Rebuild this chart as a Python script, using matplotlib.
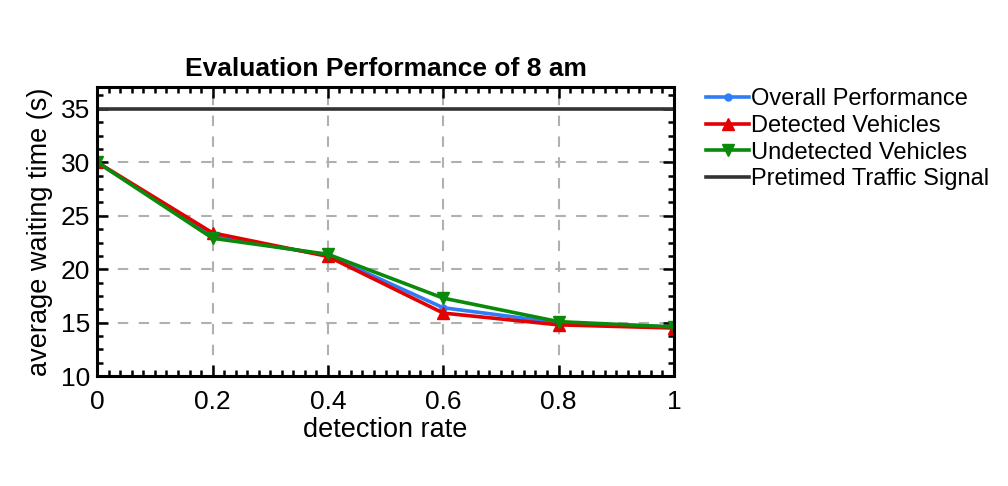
import numpy as np
import matplotlib.pyplot as plt
from matplotlib.ticker import MultipleLocator

plt.rcParams['font.family'] = ['Liberation Sans', 'DejaVu Sans']

# data
rate = [0, 0.2, 0.4, 0.6, 0.8, 1.0]
overall = [30.0, 23.1, 21.3, 16.4, 15.0, 14.6]
detected = [30.0, 23.4, 21.2, 15.9, 14.8, 14.5]
undetected = [30.0, 22.9, 21.4, 17.3, 15.1, 14.6]
pretimed = 35.0

fig = plt.figure(figsize=(10.08, 4.86), dpi=100)
ax = fig.add_axes([0.0965, 0.226, 0.572, 0.594])

ax.plot(rate, overall, color='#2f7cf6', lw=2.6, marker='o', ms=5, label='Overall Performance')
ax.plot(rate, detected, color='#e30000', lw=2.6, marker='^', ms=8, label='Detected Vehicles')
ax.plot(rate, undetected, color='#0a8a0a', lw=2.6, marker='v', ms=8, label='Undetected Vehicles')
ax.axhline(pretimed, color='#333333', lw=2.6, label='Pretimed Traffic Signal')

ax.set_xlim(0, 1)
ax.set_ylim(10, 37)
ax.set_xticks([0, 0.2, 0.4, 0.6, 0.8, 1])
ax.set_xticklabels(['0', '0.2', '0.4', '0.6', '0.8', '1'])
ax.set_yticks([10, 15, 20, 25, 30, 35])
ax.xaxis.set_minor_locator(MultipleLocator(0.02))
ax.yaxis.set_minor_locator(MultipleLocator(1.25))
ax.tick_params(which='both', direction='in', top=True, right=True, width=1.8, labelsize=19)
ax.tick_params(which='major', length=8)
ax.tick_params(axis='x', which='major', pad=10)
ax.tick_params(axis='y', which='major', pad=5)
ax.tick_params(which='minor', length=4.5)
for s in ax.spines.values():
    s.set_linewidth(2.2)
ax.grid(True, which='major', ls=(0, (5, 5)), color='#b0b0b0', lw=1.5)

ax.set_xlabel('detection rate', fontsize=19.5, labelpad=2)
ax.set_ylabel('average waiting time (s)', fontsize=19.5, labelpad=6)
ax.set_title('Evaluation Performance of 8 am', fontsize=19, fontweight='bold', pad=8)

ax.legend(loc='upper left', bbox_to_anchor=(1.04, 1.03), frameon=False, fontsize=17,
          handlelength=1.8, handletextpad=0.1, labelspacing=0.2, borderaxespad=0)

fig.savefig('out.png', dpi=100)
